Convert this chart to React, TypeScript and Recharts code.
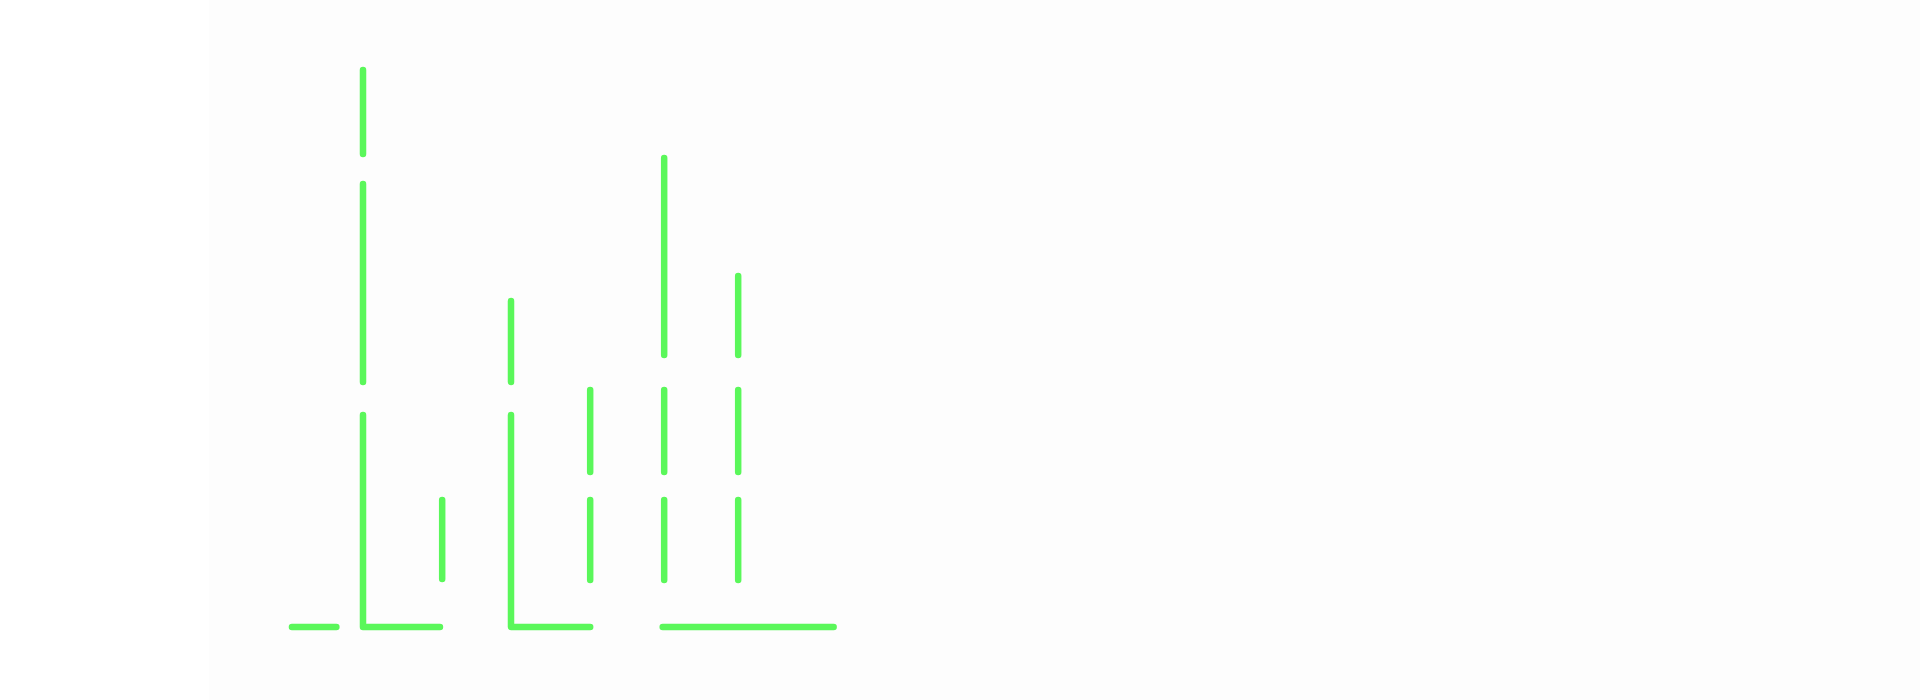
import React from 'react';
import { ComposedChart, Line, XAxis, YAxis } from 'recharts';

// Horizontal runs lying on the zero line: [xStart, xEnd]
const baselineRuns: [number, number][] = [
  [0.04, 0.64],
  [1, 2.04],
  [3, 4.07],
  [5.05, 7.36],
];

// Positions of the vertical columns along the x axis
const columnX: number[] = [1, 2.07, 3, 4.07, 5.07, 6.07];

// Visible vertical runs in each column: [from, to] in value units
const columnRuns: [number, number][][] = [
  [[0, 212], [245, 443], [473, 557]],
  [[48, 127]],
  [[0, 212], [245, 326]],
  [[47, 127], [155, 237]],
  [[47, 127], [155, 237], [272, 469]],
  [[47, 127], [155, 237], [272, 351]],
];

type Pt = { x: number; y: number | null };

const buildPoints = (): Pt[] => {
  const pts: Pt[] = [];
  baselineRuns.forEach(([a, b]) => {
    pts.push({ x: a, y: 0 }, { x: b, y: 0 }, { x: b, y: null });
  });
  columnX.forEach((cx, i) => {
    columnRuns[i].forEach(([lo, hi]) => {
      pts.push({ x: cx, y: lo }, { x: cx, y: hi }, { x: cx, y: null });
    });
  });
  return pts;
};

const points = buildPoints();

export default function App() {
  return (
    <div style={{ position: 'absolute', left: 0, top: 0, width: 1920, height: 700, background: '#ffffff' }}>
      <div style={{ position: 'absolute', left: 209, top: 0, width: 1711, height: 700, background: '#fdfdfd' }}>
        <ComposedChart
          width={1711}
          height={700}
          data={points}
          margin={{ top: 27, right: 891, bottom: 73, left: 80 }}
        >
          <XAxis type="number" dataKey="x" domain={[0, 10]} hide />
          <YAxis type="number" domain={[0, 600]} hide />
          <Line
            dataKey="y"
            stroke="#5af75a"
            strokeWidth={6.5}
            strokeLinecap="round"
            dot={false}
            activeDot={false}
            connectNulls={false}
            isAnimationActive={false}
          />
        </ComposedChart>
      </div>
    </div>
  );
}
